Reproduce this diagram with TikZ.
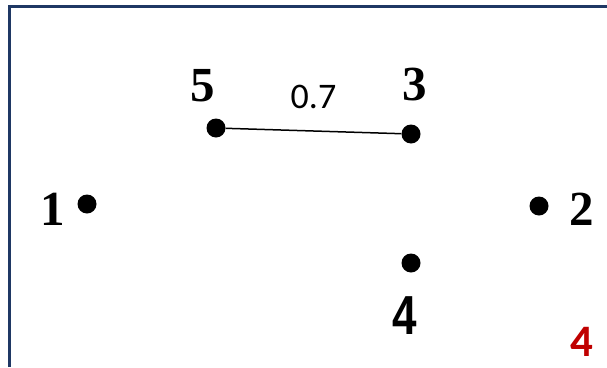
\documentclass[tikz,border=0pt]{standalone}
\usepackage{fontspec}
\setmainfont{Liberation Serif}
\newfontfamily\carlito{Carlito}
\newfontfamily\arialsans{Liberation Sans}
\usetikzlibrary{positioning}
\definecolor{framenavy}{RGB}{31,56,100}
\definecolor{pagered}{RGB}{192,0,0}

\begin{document}
\begin{tikzpicture}[x=1pt, y=-1pt, every node/.style={circle, fill, inner sep=0pt, minimum size=19pt},
    every label/.style={rectangle, fill=none, inner sep=0pt, minimum size=0pt, font=\fontsize{49}{49}\selectfont\bfseries}]
    \useasboundingbox (0,0) rectangle (607,367);
    \draw[framenavy, line width=3pt] (9,367) -- (9,6) -- (607,6);

    \node[label={[label distance=12pt, yshift=-5pt]left:1}] (v1) at (87,204) {};
    \node[label={[label distance=21pt, yshift=-3pt]right:2}] (v2) at (539,206) {};
    \node[label={[label distance=23pt, xshift=4pt]above:3}] (v3) at (411,134) {};
    \node[label={[label distance=19pt, xshift=-6pt, yscale=1.25, font=\arialsans\bfseries\fontsize{44}{44}\selectfont]below:4}] (v4) at (411,263) {};
    \node[label={[label distance=16pt, xshift=-13pt]above:5}] (v5) at (216,128) {};

    \draw[line width=1.5pt] (v5) -- node[rectangle, fill=none, above=21pt, font=\carlito\fontsize{36}{36}\selectfont] {0.7} (v3);

    \node[rectangle, fill=none, inner sep=0pt, text=pagered, font=\carlito\bfseries\fontsize{45}{45}\selectfont] (pagenum) at (582,342) {4};
\end{tikzpicture}
\end{document}
